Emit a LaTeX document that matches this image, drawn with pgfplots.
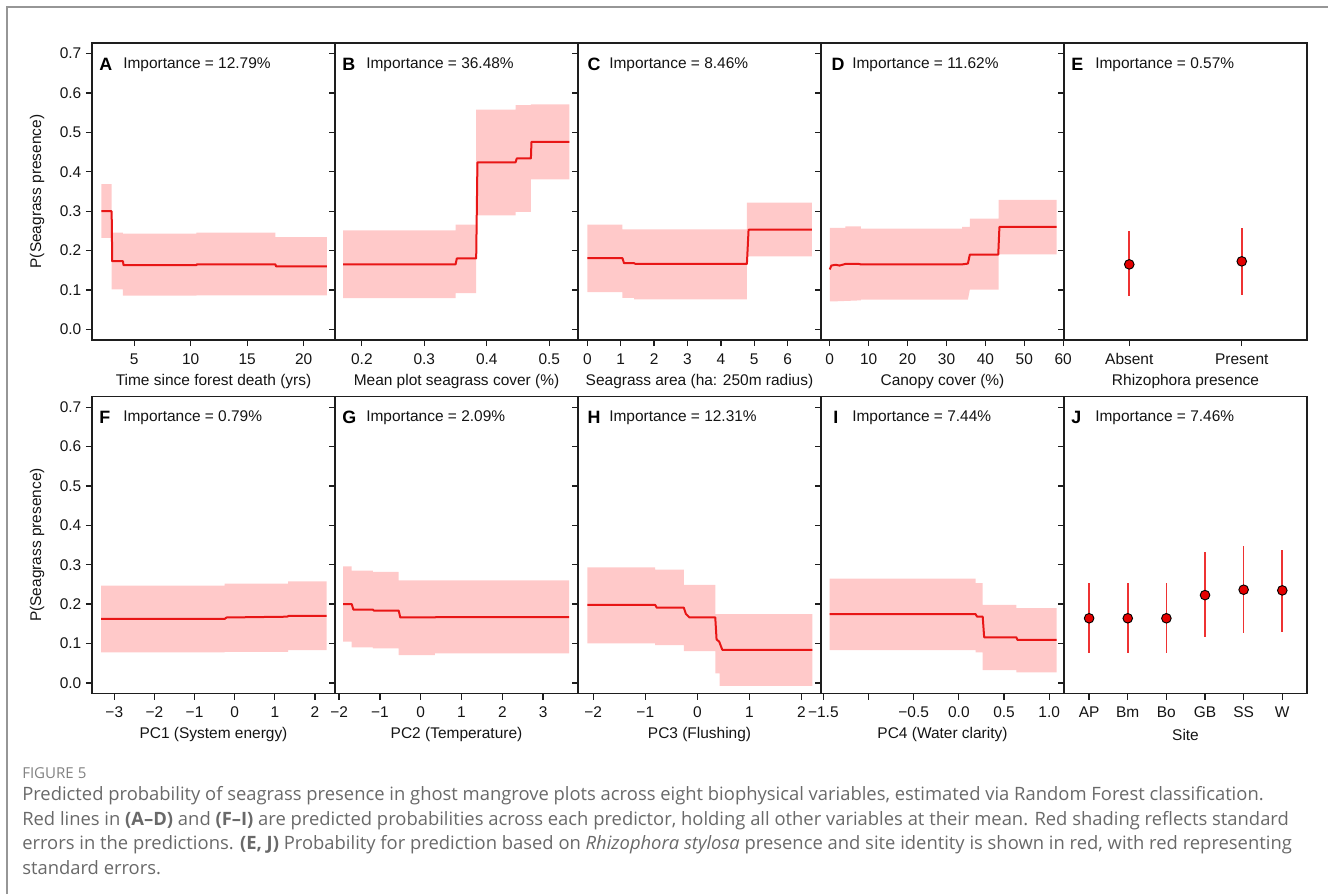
\documentclass[border=0pt]{standalone}
\usepackage{pgfplots}
\pgfplotsset{compat=1.18}
\usepackage{fontspec}
\setmainfont{Liberation Sans}
\newfontfamily\capfont{Open Sans}
\definecolor{bandcol}{RGB}{255,201,201}
\definecolor{linecol}{RGB}{232,22,22}
\definecolor{errcol}{RGB}{238,50,50}
\definecolor{ptcol}{RGB}{228,0,0}
\definecolor{axcol}{RGB}{30,30,30}
\definecolor{txtcol}{RGB}{20,20,20}
\definecolor{capcol}{RGB}{105,105,105}
\definecolor{figcol}{RGB}{130,130,130}
\definecolor{framecol}{RGB}{150,150,150}
\newcommand\tfont{\fontsize{11.6}{13.5}\selectfont}
\newcommand\lfont{\fontsize{13.4}{14}\selectfont\bfseries}
\pgfplotsset{
  panel/.style={
    scale only axis, width=182.25pt, height=222.75pt, anchor=south west,
    ymin=-0.027, ymax=0.727,
    ytick={0,0.1,0.2,0.3,0.4,0.5,0.6,0.7}, yticklabels={},
    tick align=outside, tick pos=left, major tick length=4.5pt,
    axis line style={line width=0.95pt, color=axcol},
    every tick/.style={line width=0.95pt, color=axcol},
    xticklabel style={font=\tfont, text=txtcol, yshift=-2pt},
    yticklabel style={font=\tfont, text=txtcol},
    every axis x label/.style={at={(axis description cs:0.5,-0.139)}, anchor=center, font=\tfont, text=txtcol},
    every axis y label/.style={at={(axis description cs:-0.2263,0.5)}, rotate=90, anchor=center, font=\tfont, text=txtcol},
  },
  firstcol/.style={yticklabels={0.0,0.1,0.2,0.3,0.4,0.5,0.6,0.7}, ylabel={P(Seagrass presence)}},
  band/.style={draw=none, fill=bandcol},
  pdl/.style={linecol, line width=1.5pt, line join=round},
  pts/.style={only marks, mark=*, mark size=3.6pt,
    mark options={fill=ptcol, draw=black, line width=0.7pt},
    error bars/.cd, y dir=both, y explicit, error mark=none,
    error bar style={draw=errcol, color=errcol, line width=1.2pt}},
}
\newcommand\ttl[2]{%
  \node[anchor=west, font=\lfont, text=black, inner sep=0pt] at (rel axis cs:0,1) [xshift=#1, yshift=-16pt] {#2};}
\newcommand\imp[1]{%
  \node[anchor=west, font=\tfont, text=txtcol, inner sep=0pt] at (rel axis cs:0,1) [xshift=23.25pt, yshift=-16pt] {Importance = #1\%};}
\begin{document}
\begin{tikzpicture}
\useasboundingbox (0,0) rectangle (996pt,-670.5pt);
\draw[framecol, line width=1.5pt] (5.25pt,-670.5pt) -- (5.25pt,-5.25pt) -- (996pt,-5.25pt);
%%%%%%%%%%%%%%%% A
\begin{axis}[panel, firstcol, at={(69pt,-255pt)},
  xmin=1.26, xmax=22.77, xtick={5,10,15,20}, xticklabels={5,10,15,20},
  xlabel={Time since forest death (yrs)}]
\addplot[band] coordinates {(2.1,0.369)(3.0,0.369)(3.0,0.2455)(4.0,0.2455)(4.0,0.243)(10.5,0.243)(10.5,0.2455)(17.5,0.2455)(17.5,0.2345)(22.04,0.2345)
 (22.04,0.0863)(10.5,0.0863)(10.5,0.0855)(4.0,0.0855)(4.0,0.1016)(3.0,0.1016)(3.0,0.232)(2.1,0.232)} -- cycle;
\addplot[pdl] coordinates {(2.1,0.30)(3.0,0.30)(3.05,0.173)(4.0,0.173)(4.05,0.163)(10.5,0.163)(10.55,0.165)(17.5,0.165)(17.55,0.16)(22.04,0.16)};
\ttl{5.25pt}{A}
\imp{12.79}
\end{axis}
%%%%%%%%%%%%%%%% B
\begin{axis}[panel, at={(251.25pt,-255pt)},
  xmin=0.157, xmax=0.546, xtick={0.2,0.3,0.4,0.5}, xticklabels={0.2,0.3,0.4,0.5},
  xlabel={Mean plot seagrass cover (\%)}]
\addplot[band] coordinates {(0.170,0.2515)(0.35,0.2515)(0.35,0.266)(0.383,0.266)(0.383,0.558)(0.446,0.558)(0.446,0.569)(0.4706,0.569)(0.4706,0.5715)(0.532,0.5715)
 (0.532,0.381)(0.4706,0.381)(0.4706,0.298)(0.446,0.298)(0.446,0.2895)(0.383,0.2895)(0.383,0.092)(0.35,0.092)(0.35,0.0796)(0.170,0.0796)} -- cycle;
\addplot[pdl] coordinates {(0.170,0.165)(0.35,0.165)(0.352,0.18)(0.383,0.18)(0.385,0.424)(0.446,0.424)(0.448,0.434)(0.4706,0.434)(0.4715,0.476)(0.532,0.476)};
\ttl{5.25pt}{B}
\imp{36.48}
\end{axis}
%%%%%%%%%%%%%%%% C
\begin{axis}[panel, at={(433.5pt,-255pt)},
  xmin=-0.28, xmax=7.0, xtick={0,1,2,3,4,5,6}, xticklabels={0,1,2,3,4,5,6},
  xlabel={Seagrass area (ha: 250m radius)}]
\addplot[band] coordinates {(0,0.266)(1.05,0.266)(1.05,0.254)(4.78,0.254)(4.78,0.322)(6.73,0.322)
 (6.73,0.1854)(4.78,0.1854)(4.78,0.076)(1.4,0.076)(1.4,0.080)(1.05,0.080)(1.05,0.0948)(0,0.0948)} -- cycle;
\addplot[pdl] coordinates {(0,0.181)(1.05,0.181)(1.1,0.168)(1.4,0.168)(1.45,0.166)(4.78,0.166)(4.83,0.253)(6.73,0.253)};
\ttl{7pt}{C}
\imp{8.46}
\end{axis}
%%%%%%%%%%%%%%%% D
\begin{axis}[panel, at={(615.75pt,-255pt)},
  xmin=-2.25, xmax=60.2, xtick={0,10,20,30,40,50,60}, xticklabels={0,10,20,30,40,50,60},
  xlabel={Canopy cover (\%)}]
\addplot[band] coordinates {(0,0.2574)(4,0.2574)(4,0.2616)(8,0.2616)(8,0.2557)(34,0.2557)(34,0.26)(36,0.26)(36,0.281)(43.4,0.281)(43.4,0.329)(58.3,0.329)
 (58.3,0.1905)(43.4,0.1905)(43.4,0.1008)(36,0.1008)(35.5,0.0754)(8,0.0754)(8,0.0737)(1,0.071)(0,0.071)} -- cycle;
\addplot[pdl] coordinates {(0,0.152)(0.4,0.162)(1.5,0.164)(2.5,0.162)(4,0.166)(7.5,0.166)(8,0.165)(34,0.165)(35.5,0.167)(36,0.19)(43.3,0.19)(43.6,0.26)(58.3,0.26)};
\ttl{7.8pt}{D}
\imp{11.62}
\end{axis}
%%%%%%%%%%%%%%%% E
\begin{axis}[panel, at={(798pt,-255pt)},
  xmin=0.42, xmax=2.58, xtick={1,2}, xticklabels={Absent,Present},
  xlabel={Rhizophora presence}]
\addplot[pts] table[x=x, y=y, y error plus=ep, y error minus=em] {
x y ep em
1 0.165 0.084 0.0812
2 0.1727 0.0847 0.0864
};
\ttl{5.25pt}{E}
\imp{0.57}
\end{axis}
%%%%%%%%%%%%%%%% F
\begin{axis}[panel, firstcol, at={(69pt,-520.125pt)},
  xmin=-3.556, xmax=2.5, xtick={-3,-2,-1,0,1,2}, xticklabels={−3,−2,−1,0,1,2},
  xlabel={PC1 (System energy)}]
\addplot[band] coordinates {(-3.33,0.2467)(-0.25,0.2467)(-0.25,0.252)(1.33,0.252)(1.33,0.258)(2.29,0.258)
 (2.29,0.0834)(1.33,0.0834)(1.33,0.079)(-0.25,0.079)(-0.25,0.0774)(-3.33,0.0774)} -- cycle;
\addplot[pdl] coordinates {(-3.33,0.1625)(-0.25,0.1625)(-0.2,0.166)(1.3,0.168)(1.35,0.170)(2.29,0.170)};
\ttl{5.25pt}{F}
\imp{0.79}
\end{axis}
%%%%%%%%%%%%%%%% G
\begin{axis}[panel, at={(251.25pt,-520.125pt)},
  xmin=-2.1, xmax=3.855, xtick={-2,-1,0,1,2,3}, xticklabels={−2,−1,0,1,2,3},
  xlabel={PC2 (Temperature)}]
\addplot[band] coordinates {(-1.9,0.296)(-1.69,0.296)(-1.69,0.285)(-1.17,0.285)(-1.17,0.2815)(-0.54,0.2815)(-0.54,0.260)(3.64,0.260)
 (3.64,0.0749)(0.35,0.0749)(0.35,0.0706)(-0.54,0.0706)(-0.54,0.0876)(-1.17,0.0876)(-1.17,0.09)(-1.69,0.09)(-1.69,0.1046)(-1.9,0.1046)} -- cycle;
\addplot[pdl] coordinates {(-1.9,0.200)(-1.69,0.200)(-1.65,0.186)(-1.17,0.186)(-1.15,0.1837)(-0.54,0.1837)(-0.5,0.166)(0.35,0.166)(0.37,0.167)(3.64,0.167)};
\ttl{5.25pt}{G}
\imp{2.09}
\end{axis}
%%%%%%%%%%%%%%%% H
\begin{axis}[panel, at={(433.5pt,-520.125pt)},
  xmin=-2.293, xmax=2.377, xtick={-2,-1,0,1,2}, xticklabels={−2,−1,0,1,2},
  xlabel={PC3 (Flushing)}]
\addplot[band] coordinates {(-2.115,0.2934)(-0.81,0.2934)(-0.81,0.2875)(-0.26,0.2875)(-0.26,0.249)(0.345,0.249)(0.345,0.1744)(2.21,0.1744)
 (2.21,-0.0077)(0.43,-0.0077)(0.43,0.024)(0.345,0.024)(0.345,0.0808)(-0.26,0.0808)(-0.26,0.096)(-0.81,0.096)(-0.81,0.1004)(-2.115,0.1004)} -- cycle;
\addplot[pdl] coordinates {(-2.115,0.198)(-0.81,0.198)(-0.78,0.191)(-0.26,0.191)(-0.22,0.175)(-0.15,0.166)(0.345,0.166)(0.37,0.11)(0.42,0.105)(0.48,0.084)(2.21,0.084)};
\ttl{7pt}{H}
\imp{12.31}
\end{axis}
%%%%%%%%%%%%%%%% I
\begin{axis}[panel, at={(615.75pt,-520.125pt)},
  xmin=-1.526, xmax=1.164, xtick={-1.5,-1,-0.5,0,0.5,1}, xticklabels={−1.5,,−0.5,0.0,0.5,1.0},
  xlabel={PC4 (Water clarity)}]
\addplot[band] coordinates {(-1.43,0.2645)(0.186,0.2645)(0.186,0.2535)(0.264,0.2535)(0.264,0.198)(0.636,0.198)(0.636,0.1897)(1.083,0.1897)
 (1.083,0.0264)(0.636,0.0264)(0.636,0.0323)(0.264,0.0323)(0.264,0.0774)(0.186,0.0774)(0.186,0.0834)(-1.43,0.0834)} -- cycle;
\addplot[pdl] coordinates {(-1.43,0.1744)(0.186,0.1744)(0.2,0.1684)(0.264,0.1684)(0.28,0.1157)(0.636,0.1157)(0.65,0.1089)(1.083,0.1089)};
\ttl{9pt}{I}
\imp{7.44}
\end{axis}
%%%%%%%%%%%%%%%% J
\begin{axis}[panel, at={(798pt,-520.125pt)},
  xmin=0.35, xmax=6.64, xtick={1,2,3,4,5,6}, xticklabels={AP,Bm,Bo,GB,SS,W},
  xlabel={Site}]
\addplot[pts] table[x=x, y=y, y error plus=ep, y error minus=em] {
x y ep em
1 0.164 0.0895 0.0874
2 0.164 0.0895 0.0874
3 0.164 0.0895 0.0874
4 0.2228 0.1089 0.1071
5 0.2365 0.1105 0.1106
6 0.2348 0.1037 0.1047
};
\ttl{5.25pt}{J}
\imp{7.46}
\end{axis}
%%%%%%%%%%%%%%%% caption
\node[anchor=base west, inner sep=0pt, font=\capfont\fontsize{11.3}{12}\selectfont, text=figcol] at (16.5pt,-583.5pt) {FIGURE 5};
\begin{scope}[every node/.style={anchor=base west, inner sep=0pt, font=\capfont\fontsize{13.8}{15}\selectfont, text=capcol}]
\node at (16.5pt,-600pt) {Predicted probability of seagrass presence in ghost mangrove plots across eight biophysical variables, estimated via Random Forest classification.};
\node at (16.5pt,-618.75pt) {Red lines in \textbf{(A–D)} and \textbf{(F–I)} are predicted probabilities across each predictor, holding all other variables at their mean. Red shading reflects standard};
\node at (16.5pt,-637.1pt) {errors in the predictions. \textbf{(E, J)} Probability for prediction based on \textit{Rhizophora stylosa} presence and site identity is shown in red, with red representing};
\node at (16.5pt,-655.5pt) {standard errors.};
\end{scope}
\end{tikzpicture}
\end{document}
